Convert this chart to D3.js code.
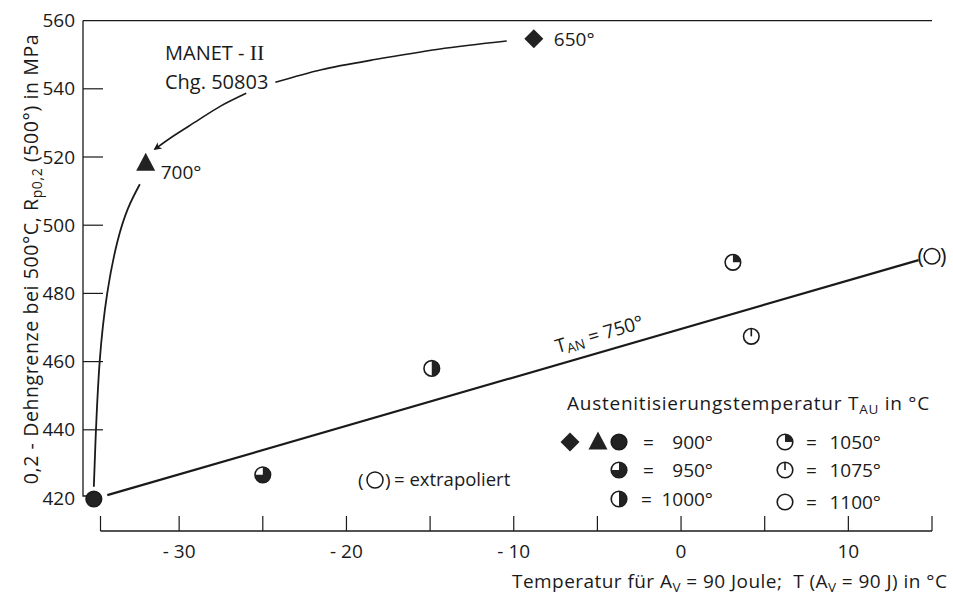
<!DOCTYPE html>
<html>
<head>
<meta charset="utf-8">
<script src="https://cdn.jsdelivr.net/npm/d3@7"></script>
<style>
  html, body { margin: 0; padding: 0; background: #fff; }
  svg { display: block; }
  text { font-family: "Open Sans", "Noto Sans", sans-serif; fill: #1a1a1a; }
</style>
</head>
<body>
<svg id="chart" width="953" height="597"></svg>
<script>
// Yield strength Rp0,2 at 500 °C vs. 90 J Charpy transition temperature, MANET-II
// Each point: annealing temperature T_AN, austenitising temperature T_AU, T(Av=90J), Rp0,2
const pointTAN = [650, 700, 750, 750, 750, 750, 750, 750];
const pointTAU = [900, 900, 900, 950, 1000, 1050, 1075, 1100];
const pointT90 = [-8.8, -32.0, -35.1, -25.0, -14.9, 3.1, 4.2, 15.0];
const pointRp  = [554.7, 518.2, 419.7, 426.8, 458.0, 489.1, 467.4, 490.9];
const extrapolated = [false, false, false, false, false, false, false, true];

// Straight trend line for T_AN = 750°
const fitT  = [-35.1, 15.0];
const fitRp = [419.7, 490.9];

// Hand-drawn guide curves (data units)
const curveUpT  = [-35.1, -35.0, -34.75, -34.3, -33.7, -33.05, -32.35];
const curveUpRp = [423.3, 436.6, 460.0, 480.0, 495.0, 505.0, 512.0];
const arrowT1  = [-10.42, -14.5, -18.5, -21.5, -24.25];
const arrowRp1 = [554.0, 551.6, 548.4, 545.6, 541.9];
const arrowT2  = [-25.99, -27.5, -28.86, -30.3, -31.45];
const arrowRp2 = [538.7, 535.0, 530.8, 526.3, 522.3];

// Axis ticks
const xTicks = [-35, -30, -25, -20, -15, -10, -5, 0, 5, 10, 15];
const xTickLabels = [-30, -20, -10, 0, 10];
const yTicks = [420, 440, 460, 480, 500, 520, 540, 560];

// Legend entries
const legendTAU = [900, 950, 1000, 1050, 1075, 1100];

const svg = d3.select("#chart");
const ink = "#1a1a1a";
const FS = 19;      // general text size

const x = d3.scaleLinear().domain([-35, 15]).range([95.5, 932]);
const y = d3.scaleLinear().domain([420, 560]).range([498, 20.6]);
const axisY = 531;   // bottom axis baseline
const axisX = 83;    // left axis line

// ---- frame: top line, left axis, bottom axis ----
svg.append("line").attr("x1", axisX).attr("x2", x(15)).attr("y1", y(560)).attr("y2", y(560))
  .attr("stroke", ink).attr("stroke-width", 1.3);
svg.append("path")
  .attr("d", `M${axisX},${y(560)} V${y(420) - 2} H${axisX + 5}`)
  .attr("fill", "none").attr("stroke", ink).attr("stroke-width", 1.3);

// left ticks (inward)
svg.append("g").selectAll("line").data(yTicks.filter(v => v > 420 && v < 560)).join("line")
  .attr("x1", axisX).attr("x2", axisX + 20)
  .attr("y1", d => y(d)).attr("y2", d => y(d))
  .attr("stroke", ink).attr("stroke-width", 1.2);
svg.append("g").selectAll("text").data(yTicks).join("text")
  .attr("x", 75).attr("y", d => y(d)).attr("dy", "0.35em")
  .attr("text-anchor", "end").attr("font-size", FS)
  .text(d => d);

// bottom axis
svg.append("line").attr("x1", x(-35) + 5).attr("x2", x(15)).attr("y1", axisY).attr("y2", axisY)
  .attr("stroke", ink).attr("stroke-width", 1.3);
svg.append("g").selectAll("line").data(xTicks).join("line")
  .attr("x1", d => x(d) + (d === -35 ? 5 : 0)).attr("x2", d => x(d) + (d === -35 ? 5 : 0))
  .attr("y1", axisY).attr("y2", axisY - 15)
  .attr("stroke", ink).attr("stroke-width", 1.2);
svg.append("g").selectAll("text").data(xTickLabels).join("text")
  .attr("x", d => x(d)).attr("y", 551).attr("dy", "0.35em")
  .attr("text-anchor", "middle").attr("font-size", FS)
  .text(d => d < 0 ? "- " + Math.abs(d) : d);

// axis titles
const xt = svg.append("text").attr("x", 512).attr("y", 588).attr("font-size", FS)
  .attr("letter-spacing", 0.45).attr("xml:space", "preserve");
xt.append("tspan").text("Temperatur für A");
xt.append("tspan").attr("font-size", 13.5).attr("dy", 4).text("V");
xt.append("tspan").attr("dy", -4).text(" = 90 Joule;  T (A");
xt.append("tspan").attr("font-size", 13.5).attr("dy", 4).text("V");
xt.append("tspan").attr("dy", -4).text(" = 90 J) in °C");

const yt = svg.append("text").attr("transform", "translate(38,259) rotate(-90)")
  .attr("text-anchor", "middle").attr("font-size", 19.5).attr("letter-spacing", 0.6);
yt.append("tspan").text("0,2 - Dehngrenze bei 500°C,  R");
yt.append("tspan").attr("font-size", 14).attr("dy", 4).text("p0,2");
yt.append("tspan").attr("dy", -4).text(" (500°) in MPa");

// ---- marker drawing ----
const R = 7.8;
const arc = d3.arc().innerRadius(0).outerRadius(R);
function drawMarker(g, kind, cx, cy) {
  const m = g.append("g").attr("transform", `translate(${cx},${cy})`);
  if (kind === "diamond") {
    m.append("path").attr("d", "M0,-9.5 L9.5,0 L0,9.5 L-9.5,0 Z").attr("fill", "#222");
    return;
  }
  if (kind === "triangle") {
    m.append("path").attr("d", "M0,-10.5 L9.5,7.5 L-9.5,7.5 Z").attr("fill", "#222");
    return;
  }
  const filled = kind === 900;
  m.append("circle").attr("r", R).attr("fill", filled ? "#222" : "#fff")
    .attr("stroke", ink).attr("stroke-width", 1.6);
  const span = { 950: 1.5 * Math.PI, 1000: Math.PI, 1050: 0.5 * Math.PI }[kind];
  if (span) m.append("path").attr("d", arc({ startAngle: 0, endAngle: span })).attr("fill", "#222");
  if (kind === 1075) m.append("line").attr("x1", 0).attr("x2", 0).attr("y1", -R).attr("y2", 0)
    .attr("stroke", ink).attr("stroke-width", 1.6);
}
function kindOf(i) {
  if (pointTAN[i] === 650) return "diamond";
  if (pointTAN[i] === 700) return "triangle";
  return pointTAU[i];
}

// ---- trend line, shortened at both markers ----
{
  const p0 = [x(fitT[0]), y(fitRp[0])], p1 = [x(fitT[1]), y(fitRp[1])];
  const len = Math.hypot(p1[0] - p0[0], p1[1] - p0[1]);
  const ux = (p1[0] - p0[0]) / len, uy = (p1[1] - p0[1]) / len;
  svg.append("line")
    .attr("x1", p0[0] + ux * 14).attr("y1", p0[1] + uy * 14)
    .attr("x2", p1[0] - ux * 14).attr("y2", p1[1] - uy * 14)
    .attr("stroke", ink).attr("stroke-width", 2.2);

  // rotated label along the line
  const angle = Math.atan2(uy, ux) * 180 / Math.PI;
  const lt = -4.6, lr = fitRp[0] + (fitRp[1] - fitRp[0]) * (lt - fitT[0]) / (fitT[1] - fitT[0]);
  const lx = x(lt) + uy * 11, ly = y(lr) - ux * 11;
  const lab = svg.append("text").attr("transform", `translate(${lx},${ly}) rotate(${angle})`)
    .attr("text-anchor", "middle").attr("font-size", FS);
  lab.append("tspan").text("T");
  lab.append("tspan").attr("font-size", 13.5).attr("dy", 3).text("AN");
  lab.append("tspan").attr("dy", -3).text(" = 750°");
}

// ---- guide curves ----
const lineGen = d3.line().x(d => x(d[0])).y(d => y(d[1])).curve(d3.curveNatural);
svg.append("path").attr("d", lineGen(d3.zip(curveUpT, curveUpRp)))
  .attr("fill", "none").attr("stroke", ink).attr("stroke-width", 1.8);
svg.append("path").attr("d", lineGen(d3.zip(arrowT1, arrowRp1)))
  .attr("fill", "none").attr("stroke", ink).attr("stroke-width", 1.6);
svg.append("defs").append("marker").attr("id", "head")
  .attr("viewBox", "0 0 10 10").attr("refX", 8).attr("refY", 5)
  .attr("markerWidth", 10).attr("markerHeight", 8).attr("markerUnits", "userSpaceOnUse")
  .attr("orient", "auto")
  .append("path").attr("d", "M0,0 L10,5 L0,10 L3,5 Z").attr("fill", ink);
svg.append("path").attr("d", lineGen(d3.zip(arrowT2, arrowRp2)))
  .attr("fill", "none").attr("stroke", ink).attr("stroke-width", 1.6)
  .attr("marker-end", "url(#head)");

// ---- data points ----
const gPts = svg.append("g");
pointT90.forEach((t, i) => {
  drawMarker(gPts, kindOf(i), x(t), y(pointRp[i]));
  if (extrapolated[i]) {
    gPts.append("text").attr("x", x(t) - 8).attr("y", y(pointRp[i])).attr("dy", "0.35em")
      .attr("text-anchor", "end").attr("font-size", 22).text("(");
    gPts.append("text").attr("x", x(t) + 8).attr("y", y(pointRp[i])).attr("dy", "0.35em")
      .attr("text-anchor", "start").attr("font-size", 22).text(")");
  }
});
// annealing temperature labels
svg.append("text").attr("x", x(pointT90[0]) + 20).attr("y", y(pointRp[0])).attr("dy", "0.38em")
  .attr("font-size", FS).text(pointTAN[0] + "°");
svg.append("text").attr("x", x(pointT90[1]) + 15).attr("y", y(pointRp[1]) + 9).attr("dy", "0.38em")
  .attr("font-size", FS).text(pointTAN[1] + "°");

// ---- material annotation ----
const mt = svg.append("text").attr("x", 165).attr("y", 60).attr("font-size", 20);
mt.append("tspan").text("MANET - ");
mt.append("tspan").attr("font-family", "'Liberation Serif', 'DejaVu Serif', serif").attr("font-size", 22).text("II");
svg.append("text").attr("x", 165).attr("y", 89).attr("font-size", 20).text("Chg. 50803");

// ---- legend ----
const lg = svg.append("g");
const lt = lg.append("text").attr("x", 567).attr("y", 410).attr("font-size", FS).attr("letter-spacing", 0.75);
lt.append("tspan").text("Austenitisierungstemperatur T");
lt.append("tspan").attr("font-size", 13.5).attr("dy", 4).text("AU");
lt.append("tspan").attr("dy", -4).text(" in °C");

const rowsY = [442, 470, 499];
legendTAU.forEach((tau, i) => {
  const col = Math.floor(i / 3), row = i % 3;
  const cy = rowsY[row] + (col === 1 && row === 2 ? 3 : 0);
  const sx = col === 0 ? 619 : 785;
  drawMarker(lg, tau, sx, cy);
  const eqX = col === 0 ? (tau >= 1000 ? 641 : 643) : 806;
  lg.append("text").attr("x", eqX).attr("y", cy).attr("dy", "0.35em").attr("font-size", FS).text("=");
  lg.append("text").attr("x", col === 0 ? 713 : 881).attr("y", cy).attr("dy", "0.35em")
    .attr("text-anchor", "end").attr("font-size", FS).text(tau + "°");
});
drawMarker(lg, "diamond", 570, rowsY[0]);
drawMarker(lg, "triangle", 598, rowsY[0]);

// extrapolation note
const ex = svg.append("g");
ex.append("text").attr("x", 358).attr("y", 480).attr("dy", "0.35em").attr("font-size", 19).text("(");
ex.append("circle").attr("cx", 375).attr("cy", 480).attr("r", 8).attr("fill", "#fff")
  .attr("stroke", ink).attr("stroke-width", 1.5);
ex.append("text").attr("x", 385).attr("y", 480).attr("dy", "0.35em").attr("font-size", 19).text(")");
ex.append("text").attr("x", 394).attr("y", 480).attr("dy", "0.35em").attr("font-size", 18.5).text("= extrapoliert");
</script>
</body>
</html>
